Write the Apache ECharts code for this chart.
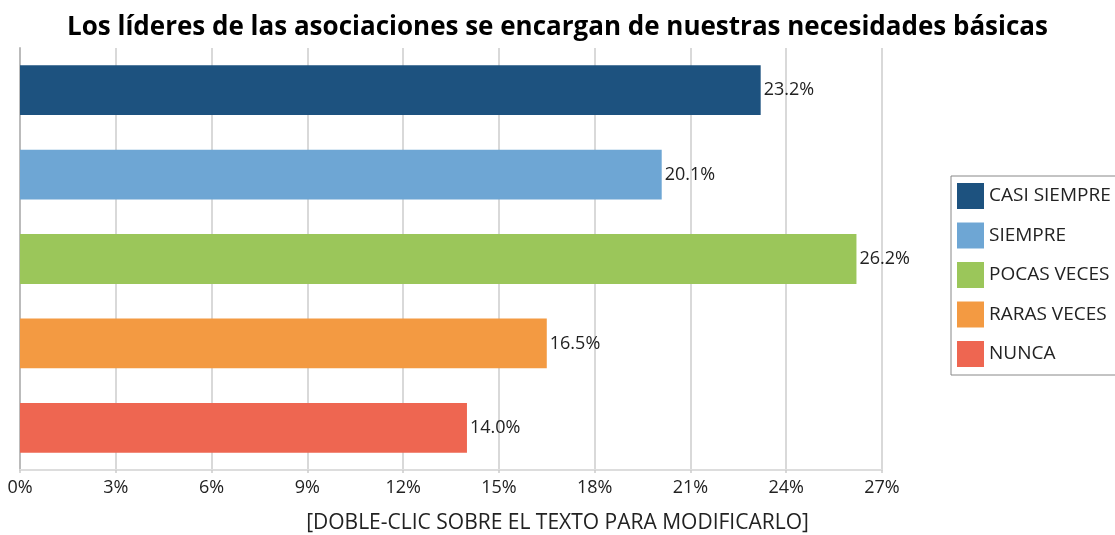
<!DOCTYPE html>
<html>
<head>
<meta charset="utf-8">
<script src="https://cdn.jsdelivr.net/npm/echarts@6/dist/echarts.min.js"></script>
<style>
  html, body { margin: 0; padding: 0; background: #fff; }
  #chart { width: 1115px; height: 535px; }
</style>
</head>
<body>
<div id="chart"></div>
<script>
var categorias = ['CASI SIEMPRE', 'SIEMPRE', 'POCAS VECES', 'RARAS VECES', 'NUNCA'];
var valores = [23.2, 20.1, 26.2, 16.5, 14.0];
var colores = ['#1d527f', '#6ea6d4', '#9bc65a', '#f39a42', '#ee6651'];
var ticksX = [0, 3, 6, 9, 12, 15, 18, 21, 24, 27];

var fuente = '"Open Sans", "Noto Sans", sans-serif';
var myChart = echarts.init(document.getElementById('chart'));

// una serie por categoria para que cada una salga en la leyenda
var series = categorias.map(function (nombre, i) {
    var datos = categorias.map(function (c, j) { return j === i ? valores[i] : '-'; });
    return {
        name: nombre,
        type: 'bar',
        stack: 'total',
        barWidth: '59%',
        data: datos,
        itemStyle: { color: colores[i] },
        label: {
            show: true,
            position: 'right',
            distance: 3,
            color: '#222',
            fontFamily: fuente,
            fontSize: 18,
            formatter: function (p) { return p.value.toFixed(1) + '%'; }
        }
    };
});

var option = {
    animation: false,
    title: [{
        text: 'Los líderes de las asociaciones se encargan de nuestras necesidades básicas',
        left: 'center',
        top: 10,
        textStyle: { fontFamily: fuente, fontSize: 26, fontWeight: 'bold', color: '#000' }
    }, {
        text: '[DOBLE-CLIC SOBRE EL TEXTO PARA MODIFICARLO]',
        left: 'center',
        top: 508,
        textStyle: { fontFamily: fuente, fontSize: 21, fontWeight: 'normal', color: '#222' }
    }],
    legend: {
        orient: 'vertical',
        left: 951,
        top: 176,
        padding: [7, 10, 8, 6],
        itemWidth: 27,
        itemHeight: 26,
        itemGap: 13.5,
        borderColor: '#888',
        borderWidth: 1,
        icon: 'rect',
        textStyle: { fontFamily: fuente, fontSize: 19, color: '#222' },
        data: categorias
    },
    grid: { left: 20, right: 233, top: 48, bottom: 65, containLabel: false },
    xAxis: {
        type: 'value',
        min: 0,
        max: ticksX[ticksX.length - 1],
        interval: 3,
        axisLine: { show: true, lineStyle: { color: '#ddd', width: 2 } },
        axisTick: { show: true, length: 3, lineStyle: { color: '#ccc', width: 1.5 } },
        splitLine: { show: true, lineStyle: { color: '#ccc', width: 1.5 } },
        axisLabel: {
            margin: 9,
            fontFamily: fuente,
            fontSize: 18,
            color: '#222',
            formatter: '{value}%'
        }
    },
    yAxis: {
        type: 'category',
        inverse: true,
        data: categorias,
        axisLine: { show: true, lineStyle: { color: '#bbb', width: 2 } },
        axisTick: { show: false },
        axisLabel: { show: false }
    },
    series: series
};

myChart.setOption(option);
</script>
</body>
</html>
